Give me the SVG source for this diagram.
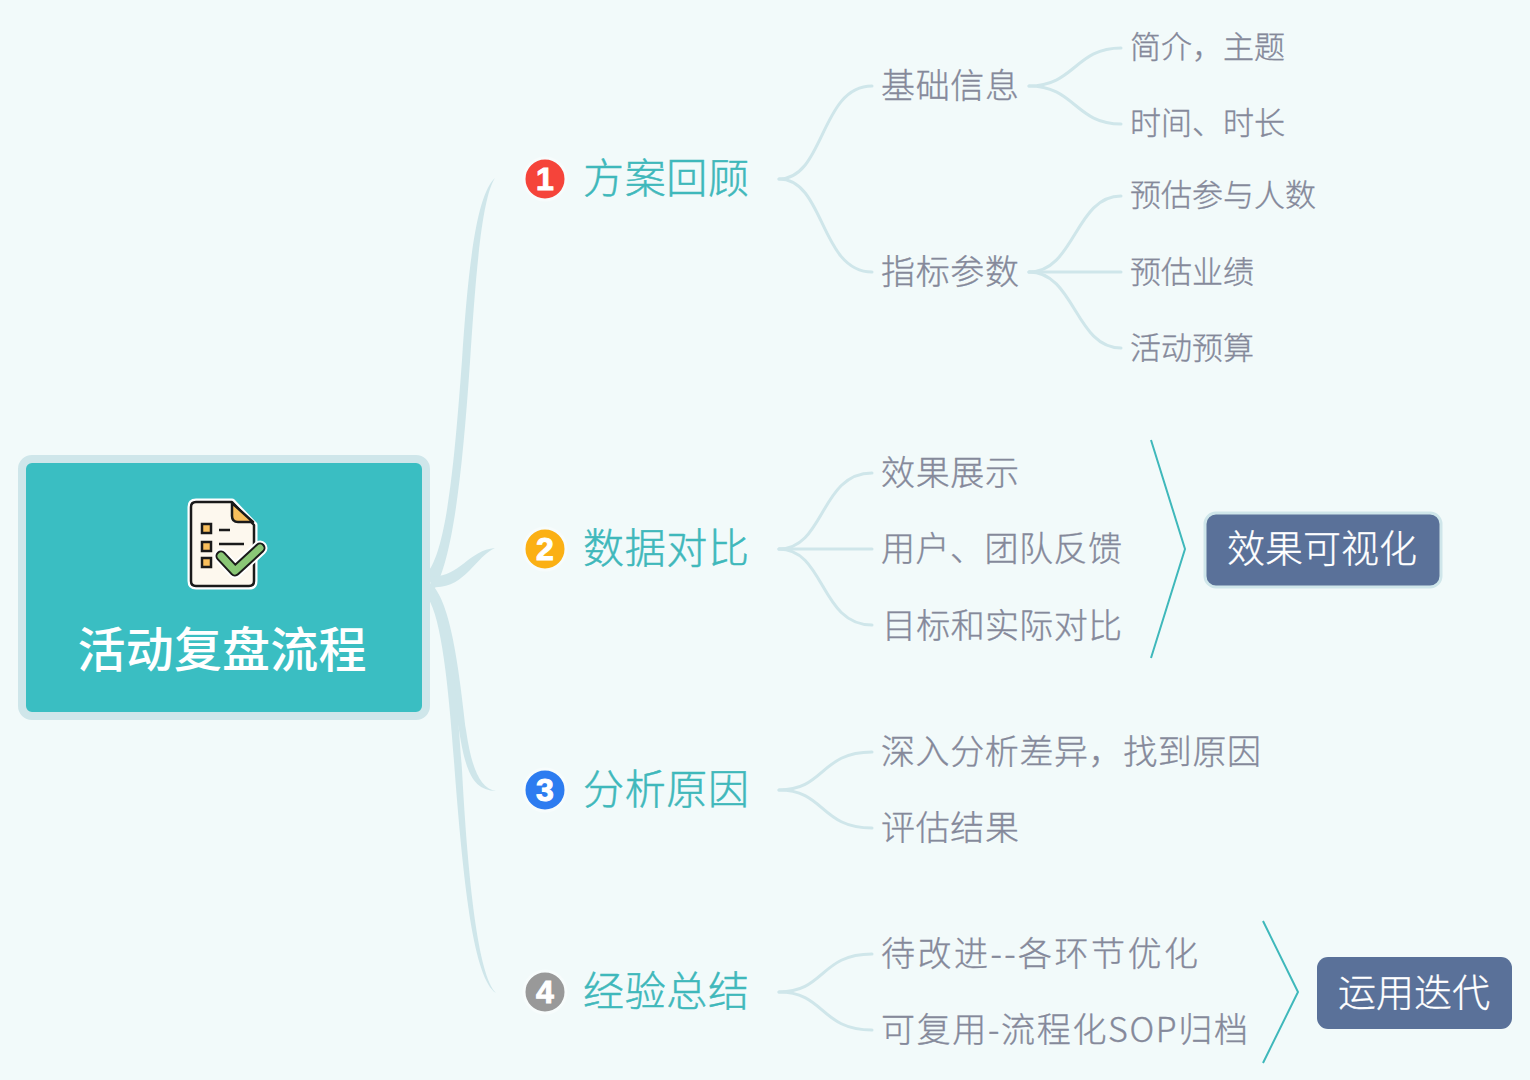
<svg xmlns="http://www.w3.org/2000/svg" width="1530" height="1080" viewBox="0 0 1530 1080">
<style>
text{font-family:"Noto Sans CJK SC","Noto Sans",sans-serif}
.b{font-size:41px;fill:#3fb8bb;font-weight:300;stroke:#3fb8bb;stroke-width:.5}
.m{font-size:34px;fill:#85899a;font-weight:300;stroke:#85899a;stroke-width:.35}
.s{font-size:31px;fill:#85899a;font-weight:300;stroke:#85899a;stroke-width:.35}
.t{font-size:38px;fill:#fff;font-weight:300;text-anchor:middle;stroke:#fff;stroke-width:.3}
.n{font-family:"Liberation Sans",sans-serif;font-size:32px;font-weight:700;fill:#fff;text-anchor:middle;stroke:#fff;stroke-width:1}
.c{fill:none;stroke:#cfe6ea;stroke-width:3;stroke-linecap:round}
.tap{fill:#cfe6ea}
.br{fill:none;stroke:#3fb8bb;stroke-width:2}
.tag{fill:#5a7199}
.dot{stroke:#f7fcfc;stroke-width:3}
.ic{stroke:#1a1a1a;stroke-width:2.5}
</style>
<rect width="1530" height="1080" fill="#f2fafa"/>
<g id="connectors">
<path class="tap" d="M428 572C446 548 454 470 462 360C468 270 476 195 495 178C482 198 476 270 470 362C462 480 452 560 434 590Z"/>
<path class="tap" d="M428 576C458 580 468 550 495 548C476 556 464 590 432 587Z"/>
<path class="tap" d="M430 583C452 600 460 680 466 730C472 770 480 788 496 791C474 790 466 775 459 730C452 680 444 610 428 596Z"/>
<path class="tap" d="M430 585C448 600 456 680 462 770C468 880 478 975 496 993C474 978 464 890 455 775C449 690 442 620 428 598Z"/>
<path class="c" d="M779 179C825 179 820 86 872 86"/>
<path class="c" d="M779 179C825 179 820 272 872 272"/>
<path class="c" d="M1029 86C1075 86 1075 48 1121 48"/>
<path class="c" d="M1029 86C1075 86 1075 124 1121 124"/>
<path class="c" d="M1029 272C1075 272 1075 196 1121 196"/>
<path class="c" d="M1029 272H1121"/>
<path class="c" d="M1029 272C1075 272 1075 348 1121 348"/>
<path class="c" d="M779 549C825 549 820 473 872 473"/>
<path class="c" d="M779 549H872"/>
<path class="c" d="M779 549C825 549 820 625 872 625"/>
<path class="c" d="M779 790C825 790 820 752 872 752"/>
<path class="c" d="M779 790C825 790 820 828 872 828"/>
<path class="c" d="M779 992C825 992 820 954 872 954"/>
<path class="c" d="M779 992C825 992 820 1030 872 1030"/>
<path class="br" d="M1151 440L1185 549L1151 658"/>
<path class="br" d="M1263 921L1298 992L1263 1063"/>
</g>
<g id="root">
<rect x="22" y="459" width="404" height="257" rx="10" fill="#3abec2" stroke="#cfe6ea" stroke-width="8"/>
<g id="root-icon">
<path d="M196 502H232L254 525V581Q254 586 249 586H196Q191 586 191 581V507Q191 502 196 502Z" fill="#fdf8ee" stroke="#fff" stroke-width="7" stroke-linejoin="round"/>
<path d="M196 502H232L254 525V581Q254 586 249 586H196Q191 586 191 581V507Q191 502 196 502Z" fill="#fdf8ee" class="ic" stroke-linejoin="round"/>
<path d="M232 503L253 522H238Q232 522 232 516Z" fill="#f8bf5c" class="ic" stroke-linejoin="round"/>
<rect x="202" y="524" width="9" height="9" fill="#f8bf5c" class="ic"/>
<rect x="202" y="542" width="9" height="9" fill="#f8bf5c" class="ic"/>
<rect x="202" y="558" width="9" height="9" fill="#f8bf5c" class="ic"/>
<path d="M219 530H230M219 544H244" fill="none" class="ic"/>
<path d="M221 556L235 571L260 548" fill="none" stroke="#fff" stroke-width="15" stroke-linecap="round" stroke-linejoin="round"/>
<path d="M221 556L235 571L260 548" fill="none" stroke="#1a1a1a" stroke-width="11" stroke-linecap="round" stroke-linejoin="round"/>
<path d="M221 556L235 571L260 548" fill="none" stroke="#8ac776" stroke-width="7" stroke-linecap="round" stroke-linejoin="round"/>
</g>
<text x="222" y="667" font-size="48" font-weight="500" fill="#fff" text-anchor="middle" textLength="289">活动复盘流程</text>
</g>
<g id="n1">
<circle class="dot" cx="545" cy="179" r="21" fill="#f5443a"/>
<text class="n" x="545" y="190">1</text>
<text class="b" x="583" y="193" textLength="166">方案回顾</text>
</g>
<g id="n1-1"><text class="m" x="881" y="98" textLength="138">基础信息</text></g>
<g id="n1-1-1"><text class="s" x="1130" y="58">简介，主题</text></g>
<g id="n1-1-2"><text class="s" x="1130" y="134">时间、时长</text></g>
<g id="n1-2"><text class="m" x="881" y="284" textLength="138">指标参数</text></g>
<g id="n1-2-1"><text class="s" x="1130" y="206">预估参与人数</text></g>
<g id="n1-2-2"><text class="s" x="1130" y="283">预估业绩</text></g>
<g id="n1-2-3"><text class="s" x="1130" y="359">活动预算</text></g>
<g id="n2">
<circle class="dot" cx="545" cy="549" r="21" fill="#fbb014"/>
<text class="n" x="545" y="560">2</text>
<text class="b" x="583" y="563" textLength="166">数据对比</text>
</g>
<g id="n2-1"><text class="m" x="881" y="485" textLength="138">效果展示</text></g>
<g id="n2-2"><text class="m" x="881" y="561" textLength="241">用户、团队反馈</text></g>
<g id="n2-3"><text class="m" x="882" y="638" textLength="240">目标和实际对比</text></g>
<g id="tag1">
<rect x="1205" y="513" width="236" height="74" rx="11" class="tag" stroke="#cfe6ea" stroke-width="3"/>
<text class="t" x="1322" y="562">效果可视化</text>
</g>
<g id="n3">
<circle class="dot" cx="545" cy="790" r="21" fill="#2d7cf0"/>
<text class="n" x="545" y="801">3</text>
<text class="b" x="583" y="804" textLength="166">分析原因</text>
</g>
<g id="n3-1"><text class="m" x="881" y="764" textLength="380">深入分析差异，找到原因</text></g>
<g id="n3-2"><text class="m" x="881" y="840" textLength="138">评估结果</text></g>
<g id="n4">
<circle class="dot" cx="545" cy="992" r="21" fill="#999999"/>
<text class="n" x="545" y="1003">4</text>
<text class="b" x="583" y="1006" textLength="166">经验总结</text>
</g>
<g id="n4-1"><text class="m" x="881" y="966" textLength="317">待改进--各环节优化</text></g>
<g id="n4-2"><text class="m" x="881" y="1042" textLength="367">可复用-流程化SOP归档</text></g>
<g id="tag2">
<rect x="1317" y="957" width="195" height="72" rx="11" class="tag"/>
<text class="t" x="1414" y="1006">运用迭代</text>
</g>
</svg>
